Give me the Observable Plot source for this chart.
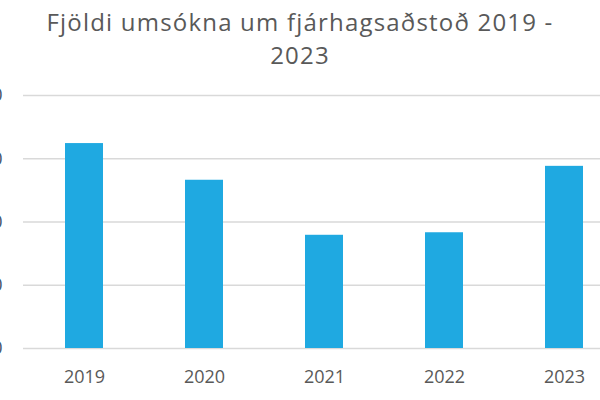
<!DOCTYPE html>
<html>
<head>
<meta charset="utf-8">
<script src="https://cdn.jsdelivr.net/npm/d3@7"></script>
<script src="https://cdn.jsdelivr.net/npm/@observablehq/plot@0.6"></script>
<style>
  html, body { margin: 0; padding: 0; background: #fff; overflow: hidden; width: 600px; height: 400px; }
  #title { height: 75px; text-align: center; font-family: "Open Sans", sans-serif; font-size: 24px; letter-spacing: 1.2px; color: #595959; line-height: 33px; padding-top: 5px; box-sizing: border-box; white-space: nowrap; }
  #chart { width: 600px; overflow: hidden; }
  #chart svg { max-width: none !important; display: block; }
</style>
</head>
<body>
<div id="title">Fjöldi umsókna um fjárhagsaðstoð 2019 -<br>2023</div>
<div id="chart"></div>
<script>
const years = ["2019", "2020", "2021", "2022", "2023"];
const counts = [324, 266, 179, 183, 288];
const yTicks = [0, 100, 200, 300, 400];

const data = years.map((y, i) => ({year: y, count: counts[i]}));

const chart = Plot.plot({
  width: 630,
  height: 325,
  marginLeft: 23,
  marginRight: 5,
  marginTop: 20,
  marginBottom: 52,
  style: {fontFamily: "Open Sans, sans-serif", background: "transparent", overflow: "visible", maxWidth: "none"},
  x: {domain: years, paddingInner: 0.685, paddingOuter: 0.3425, label: null},
  y: {domain: [0, 400], label: null},
  marks: [
    Plot.ruleY(yTicks, {stroke: "#d9d9d9", strokeWidth: 1.5}),
    Plot.barY(data, {x: "year", y: "count", fill: "#1fa9e1"}),
    Plot.axisX({tickSize: 0, tickPadding: 22, fontSize: 18, fill: "#595959", label: null}),
    Plot.axisY(yTicks, {tickSize: 0, tickPadding: 21, fontSize: 18, fill: "#44546a", label: null})
  ]
});
document.getElementById("chart").appendChild(chart);
</script>
</body>
</html>
